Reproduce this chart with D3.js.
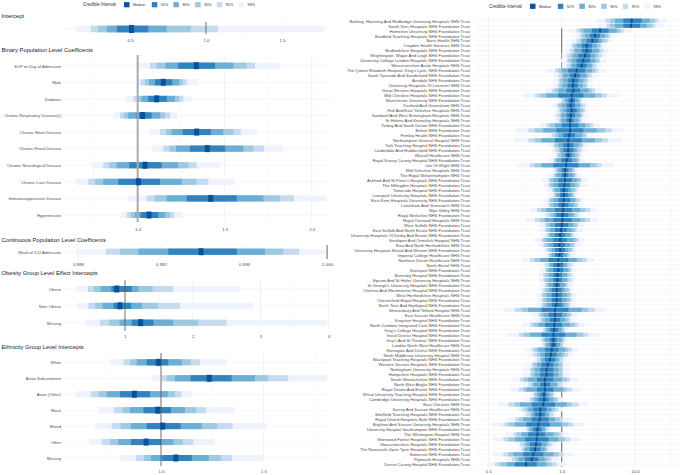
<!DOCTYPE html>
<html><head><meta charset="utf-8">
<script src="https://cdn.jsdelivr.net/npm/d3@7"></script>
<style>body{margin:0;background:#fff}svg{display:block}text{font-family:"Liberation Sans",Arial,sans-serif}</style>
</head><body><svg id="c" width="683" height="475"></svg>
<script>
// ---------- DATA ----------
const levels = ["50%","80%","90%","95%","99%"];
const legendLabels = ["Median","50%","80%","90%","95%","99%"];

// Intercept
const interceptLabels = [""];
const interceptMedian = [0.51];
const interceptLower = [[0.414,0.348,0.289,0.243,0.145]];
const interceptUpper = [[0.62,0.74,0.90,1.08,1.78]];
const interceptTicks = [0.5,1.0,1.5];
const interceptMinor = [0.25,0.75,1.25,1.75];

// Binary population level coefficients
const binaryLabels = ["SOP on Day of Admission","Male","Diabetes","Chronic Respiratory Disease(s)","Chronic Heart Disease","Chronic Renal Disease","Chronic Neurological Disease","Chronic Liver Disease","Immunosuppressive Disease","Hypertension"];
const binaryMedian = [1.337,1.147,1.109,1.029,1.339,1.40,1.042,1.004,1.42,1.065];
const binaryLower = [
 [1.233,1.161,1.109,1.071,0.994],[1.099,1.065,1.042,1.017,0.994],[1.061,1.023,0.998,0.975,0.933],
 [0.99,0.946,0.921,0.898,0.86],[1.259,1.195,1.163,1.128,1.071],[1.30,1.22,1.182,1.147,1.08],
 [0.952,0.879,0.837,0.802,0.736],[0.889,0.802,0.755,0.716,0.645],[1.282,1.167,1.099,1.052,0.946],
 [1.017,0.984,0.96,0.937,0.902]];
const binaryUpper = [
 [1.444,1.549,1.626,1.674,1.818],[1.199,1.239,1.259,1.282,1.348],[1.167,1.214,1.239,1.262,1.31],
 [1.08,1.128,1.157,1.186,1.233],[1.42,1.492,1.549,1.592,1.684],[1.502,1.607,1.664,1.726,1.837],
 [1.138,1.233,1.291,1.339,1.473],[1.128,1.253,1.339,1.406,1.559],[1.569,1.722,1.818,1.898,2.086],
 [1.118,1.157,1.186,1.209,1.259]];
const binaryTicks = [1.0,1.5,2.0];
const binaryMinor = [0.75,1.25,1.75];

// Continuous
const contLabels = ["Week of ICU Admission"];
const contMedian = [0.99393];
const contLower = [[0.99235,0.99091,0.99002,0.98935,0.98790]];
const contUpper = [[0.99565,0.99701,0.99789,0.99865,0.99990]];
const contTicks = [0.988,0.992,0.996,1.000];
const contMinor = [0.990,0.994,0.998];

// Obesity
const obesityLabels = ["Obese","Non\u2212Obese","Missing"];
const obesityMedian = [0.878,0.926,1.23];
const obesityLower = [[0.80,0.64,0.54,0.45,0.28],[0.83,0.67,0.56,0.46,0.29],[1.10,0.92,0.77,0.63,0.41]];
const obesityUpper = [[1.10,1.20,1.41,1.71,2.70],[1.09,1.25,1.49,1.81,2.89],[1.42,1.71,2.08,2.50,3.97]];
const obesityTicks = [1,2,3,4];
const obesityMinor = [0.5,1.5,2.5,3.5];

// Ethnicity
const ethLabels = ["White","Asian Subcontinent","Asian (Other)","Black","Mixed","Other","Missing"];
const ethMedian = [0.987,1.236,0.87,0.984,1.008,0.927,1.073];
const ethLower = [[0.930,0.881,0.849,0.816,0.751],[1.145,1.068,1.028,1.003,0.955],[0.80,0.735,0.694,0.657,0.585],
 [0.914,0.849,0.813,0.77,0.694],[0.93,0.853,0.803,0.759,0.678],[0.853,0.791,0.751,0.71,0.65],[1.006,0.951,0.917,0.878,0.803]];
const ethUpper = [[1.036,1.101,1.145,1.191,1.321],[1.345,1.459,1.524,1.622,1.81],[0.946,1.033,1.068,1.10,1.15],
 [1.049,1.117,1.171,1.22,1.362],[1.096,1.199,1.275,1.35,1.516],[1.0,1.06,1.106,1.158,1.264],[1.15,1.234,1.292,1.348,1.5]];
const ethTicks = [1.0,1.5];
const ethMinor = [0.75,1.25,1.75];

// Trusts (right panel)
const trustLabels = [
"Barking, Havering And Redbridge University Hospitals NHS Trust","South Tees Hospitals NHS Foundation Trust","Homerton University NHS Foundation Trust","Bradford Teaching Hospitals NHS Foundation Trust","Barts Health NHS Trust","Croydon Health Services NHS Trust","Bedfordshire Hospitals NHS Foundation Trust","Wrightington, Wigan And Leigh NHS Foundation Trust","University College London Hospitals NHS Foundation Trust","Worcestershire Acute Hospitals NHS Trust",
"The Queen Elizabeth Hospital, King's Lynn, NHS Foundation Trust","South Tyneside And Sunderland NHS Foundation Trust","Airedale NHS Foundation Trust","University Hospitals Of Leicester NHS Trust","Great Western Hospitals NHS Foundation Trust","Mid Cheshire Hospitals NHS Foundation Trust","Manchester University NHS Foundation Trust","Dartford And Gravesham NHS Trust","Hull And East Yorkshire Hospitals NHS Trust","Sandwell And West Birmingham Hospitals NHS Trust",
"St Helens And Knowsley Hospitals NHS Trust","Torbay And South Devon NHS Foundation Trust","Bolton NHS Foundation Trust","Frimley Health NHS Foundation Trust","Northampton General Hospital NHS Trust","York Teaching Hospital NHS Foundation Trust","Calderdale And Huddersfield NHS Foundation Trust","Walsall Healthcare NHS Trust","Royal Surrey County Hospital NHS Foundation Trust","Isle Of Wight NHS Trust",
"Mid Yorkshire Hospitals NHS Trust","The Royal Wolverhampton NHS Trust","Ashford And St Peter's Hospitals NHS Foundation Trust","The Hillingdon Hospitals NHS Foundation Trust","Tameside Hospital NHS Foundation Trust","Liverpool University Hospitals NHS Foundation Trust","East Kent Hospitals University NHS Foundation Trust","Lewisham And Greenwich NHS Trust","Wye Valley NHS Trust","Royal Berkshire NHS Foundation Trust",
"Royal Cornwall Hospitals NHS Trust","West Suffolk NHS Foundation Trust","East Suffolk And North Essex NHS Foundation Trust","University Hospitals Of Derby And Burton NHS Foundation Trust","Southport And Ormskirk Hospital NHS Trust","East And North Hertfordshire NHS Trust","University Hospitals Bristol And Weston NHS Foundation Trust","Imperial College Healthcare NHS Trust","Northern Devon Healthcare NHS Trust","North Bristol NHS Trust",
"Stockport NHS Foundation Trust","Barnsley Hospital NHS Foundation Trust","Epsom And St Helier University Hospitals NHS Trust","St George's University Hospitals NHS Foundation Trust","Chelsea And Westminster Hospital NHS Foundation Trust","West Hertfordshire Hospitals NHS Trust","Chesterfield Royal Hospital NHS Foundation Trust","North Tees And Hartlepool NHS Foundation Trust","Shrewsbury And Telford Hospital NHS Trust","East Sussex Healthcare NHS Trust",
"Kingston Hospital NHS Foundation Trust","North Cumbria Integrated Care NHS Foundation Trust","King's College Hospital NHS Foundation Trust","Yeovil District Hospital NHS Foundation Trust","Guy's And St Thomas' NHS Foundation Trust","London North West Healthcare NHS Trust","Harrogate And District NHS Foundation Trust","North Middlesex University Hospital NHS Trust","Blackpool Teaching Hospitals NHS Foundation Trust","Western Sussex Hospitals NHS Foundation Trust",
"Nottingham University Hospitals NHS Trust","Hampshire Hospitals NHS Foundation Trust","South Warwickshire NHS Foundation Trust","North West Anglia NHS Foundation Trust","Royal Devon And Exeter NHS Foundation Trust","Wirral University Teaching Hospital NHS Foundation Trust","Cambridge University Hospitals NHS Foundation Trust","East Cheshire NHS Trust","Surrey And Sussex Healthcare NHS Trust","Sheffield Teaching Hospitals NHS Foundation Trust",
"Royal United Hospitals Bath NHS Foundation Trust","Brighton And Sussex University Hospitals NHS Trust","University Hospital Southampton NHS Foundation Trust","The Whittington Hospital NHS Trust","Sherwood Forest Hospitals NHS Foundation Trust","Gloucestershire Hospitals NHS Foundation Trust","The Newcastle Upon Tyne Hospitals NHS Foundation Trust","Somerset NHS Foundation Trust","Plymouth Hospitals NHS Trust","Dorset County Hospital NHS Foundation Trust"];
const trustMedian = [9.0,8.8,3.33,2.85,2.62,2.19,2.19,2.08,1.97,1.87,
1.60,1.52,1.44,1.42,1.44,1.37,1.37,1.33,1.37,1.33,
1.30,1.30,1.30,1.27,1.23,1.23,1.23,1.23,1.17,1.15,
1.11,1.11,1.11,1.09,1.07,1.07,1.07,1.05,1.05,1.03,
1.03,1.00,0.98,0.95,0.95,0.93,0.95,0.93,0.90,0.90,
0.90,0.875,0.875,0.855,0.855,0.855,0.855,0.84,0.81,0.81,
0.81,0.79,0.79,0.77,0.77,0.77,0.73,0.715,0.69,0.645,
0.62,0.62,0.59,0.59,0.59,0.575,0.575,0.56,0.51,0.51,
0.50,0.48,0.466,0.466,0.456,0.446,0.433,0.41,0.39,0.326];
const trustLower = [
[6.93,5.34,4.56,3.90,3.00],[6.93,5.34,4.56,4.11,3.16],[2.57,1.98,1.78,1.60,1.23],[2.43,2.08,1.87,1.78,1.52],[2.19,1.87,1.78,1.60,1.37],
[1.87,1.60,1.44,1.37,1.17],[1.87,1.52,1.44,1.30,1.11],[1.69,1.44,1.30,1.17,1.00],[1.60,1.37,1.23,1.17,0.95],[1.60,1.37,1.30,1.17,1.00],
[1.23,1.00,0.90,0.81,0.62],[1.30,1.05,1.00,0.90,0.77],[1.23,1.05,0.95,0.90,0.77],[1.20,1.03,0.93,0.88,0.75],[1.17,0.90,0.81,0.73,0.59],
[0.90,0.62,0.51,0.43,0.30],[1.23,1.11,1.05,1.00,0.90],[1.17,1.00,0.90,0.85,0.73],[1.17,1.05,0.95,0.90,0.81],[1.17,1.00,0.95,0.85,0.77],
[1.17,1.00,0.95,0.90,0.77],[1.00,0.81,0.69,0.62,0.51],[0.85,0.56,0.43,0.35,0.24],[1.05,0.90,0.81,0.73,0.62],[0.81,0.53,0.43,0.35,0.23],
[1.05,0.90,0.81,0.77,0.66],[1.05,0.95,0.90,0.81,0.73],[1.11,1.00,0.90,0.85,0.77],[1.00,0.85,0.81,0.77,0.66],[0.77,0.53,0.43,0.37,0.26],
[1.00,0.90,0.85,0.81,0.73],[1.00,0.85,0.81,0.77,0.66],[0.90,0.77,0.69,0.66,0.53],[0.90,0.77,0.69,0.66,0.56],[0.95,0.81,0.77,0.73,0.62],
[0.95,0.85,0.81,0.77,0.66],[0.90,0.77,0.69,0.66,0.56],[0.90,0.77,0.69,0.66,0.56],[0.81,0.62,0.53,0.46,0.37],[0.85,0.77,0.69,0.62,0.56],
[0.77,0.59,0.51,0.43,0.33],[0.81,0.69,0.62,0.59,0.48],[0.81,0.69,0.62,0.59,0.51],[0.81,0.69,0.66,0.62,0.53],[0.77,0.62,0.56,0.53,0.43],
[0.77,0.66,0.59,0.56,0.48],[0.81,0.73,0.66,0.62,0.56],[0.81,0.73,0.69,0.66,0.59],[0.66,0.51,0.43,0.37,0.285],[0.77,0.69,0.66,0.59,0.53],
[0.77,0.66,0.62,0.59,0.51],[0.77,0.66,0.59,0.56,0.48],[0.77,0.66,0.59,0.56,0.48],[0.77,0.66,0.62,0.59,0.51],[0.73,0.66,0.59,0.56,0.51],
[0.73,0.62,0.56,0.53,0.46],[0.73,0.62,0.56,0.53,0.46],[0.73,0.62,0.56,0.53,0.46],[0.53,0.35,0.285,0.23,0.16],[0.66,0.56,0.51,0.48,0.39],
[0.69,0.59,0.53,0.51,0.43],[0.59,0.48,0.41,0.37,0.285],[0.69,0.62,0.59,0.56,0.51],[0.53,0.37,0.30,0.26,0.18],[0.69,0.59,0.56,0.53,0.48],
[0.69,0.62,0.59,0.56,0.51],[0.59,0.48,0.43,0.39,0.32],[0.59,0.51,0.46,0.41,0.35],[0.59,0.53,0.51,0.46,0.41],[0.53,0.46,0.41,0.39,0.33],
[0.51,0.43,0.39,0.37,0.30],[0.51,0.43,0.39,0.37,0.30],[0.46,0.35,0.30,0.27,0.21],[0.51,0.41,0.39,0.35,0.30],[0.46,0.33,0.30,0.26,0.20],
[0.51,0.46,0.43,0.41,0.37],[0.48,0.43,0.39,0.37,0.32],[0.39,0.27,0.23,0.187,0.137],[0.41,0.35,0.32,0.285,0.243],[0.43,0.39,0.37,0.33,0.30],
[0.39,0.30,0.26,0.23,0.178],[0.33,0.23,0.187,0.16,0.111],[0.41,0.37,0.35,0.33,0.30],[0.35,0.285,0.243,0.219,0.169],[0.316,0.231,0.187,0.16,0.117],
[0.37,0.33,0.30,0.27,0.243],[0.37,0.316,0.30,0.285,0.243],[0.30,0.219,0.187,0.16,0.117],[0.316,0.2565,0.231,0.208,0.169],[0.231,0.178,0.144,0.123,0.095]];
const trustUpper = [
[12.3,16.0,18.7,20.8,27.0],[11.7,14.4,16.9,18.7,24.3],[4.33,5.62,6.24,6.93,9.01],[3.33,3.90,4.33,4.56,5.34],[3.16,3.51,3.90,4.33,4.81],
[2.57,3.00,3.33,3.51,4.11],[2.57,3.16,3.33,3.70,4.33],[2.43,2.85,3.16,3.51,4.11],[2.43,2.85,3.16,3.33,4.11],[2.19,2.57,2.70,3.00,3.51],
[2.08,2.57,2.85,3.16,4.11],[1.78,2.19,2.31,2.57,3.00],[1.69,1.97,2.19,2.31,2.70],[1.65,1.93,2.14,2.26,2.64],[1.78,2.31,2.57,2.85,3.51],
[1.97,2.85,3.51,4.11,5.93],[1.52,1.69,1.78,1.87,2.08],[1.52,1.78,1.87,2.08,2.31],[1.60,1.78,1.97,2.08,2.31],[1.52,1.78,1.87,1.97,2.31],
[1.44,1.69,1.78,1.87,2.19],[1.69,2.08,2.43,2.70,3.33],[1.97,3.00,3.90,4.81,6.93],[1.52,1.87,2.08,2.19,2.70],[1.87,2.85,3.51,4.33,6.58],
[1.44,1.69,1.87,1.97,2.31],[1.44,1.60,1.69,1.87,2.08],[1.37,1.52,1.69,1.78,1.97],[1.37,1.60,1.69,1.78,2.08],[1.69,2.43,3.00,3.51,5.06],
[1.23,1.37,1.44,1.52,1.69],[1.23,1.44,1.52,1.60,1.87],[1.37,1.60,1.78,1.87,2.31],[1.30,1.52,1.69,1.78,2.19],[1.23,1.37,1.52,1.60,1.78],
[1.23,1.37,1.44,1.52,1.69],[1.30,1.52,1.60,1.78,2.08],[1.23,1.44,1.60,1.69,1.97],[1.37,1.78,2.08,2.43,3.00],[1.23,1.44,1.52,1.69,1.97],
[1.37,1.78,2.08,2.43,3.16],[1.23,1.44,1.60,1.69,2.08],[1.17,1.37,1.52,1.60,1.97],[1.11,1.30,1.37,1.44,1.69],[1.17,1.44,1.60,1.69,2.08],
[1.11,1.30,1.44,1.52,1.87],[1.11,1.23,1.37,1.44,1.60],[1.05,1.17,1.23,1.30,1.52],[1.23,1.60,1.87,2.19,2.85],[1.05,1.17,1.23,1.37,1.52],
[1.05,1.23,1.30,1.37,1.60],[1.00,1.17,1.23,1.37,1.52],[1.00,1.17,1.23,1.37,1.52],[0.95,1.11,1.17,1.23,1.44],[1.00,1.11,1.23,1.30,1.44],
[1.00,1.17,1.30,1.37,1.60],[1.00,1.17,1.30,1.37,1.60],[1.00,1.11,1.23,1.30,1.52],[1.23,1.87,2.31,2.85,4.11],[1.00,1.17,1.30,1.37,1.69],
[0.95,1.11,1.23,1.30,1.52],[1.00,1.30,1.52,1.69,2.08],[0.90,1.00,1.05,1.11,1.23],[1.11,1.60,1.97,2.31,3.33],[0.855,1.00,1.05,1.11,1.23],
[0.855,0.95,1.00,1.05,1.17],[0.90,1.11,1.23,1.37,1.69],[0.855,1.00,1.11,1.23,1.44],[0.81,0.90,0.95,1.05,1.17],[0.77,0.90,1.00,1.05,1.30],
[0.77,0.90,1.00,1.05,1.30],[0.77,0.90,1.00,1.05,1.30],[0.77,1.00,1.17,1.30,1.69],[0.69,0.855,0.90,1.00,1.17],[0.77,1.05,1.17,1.37,1.78],
[0.62,0.69,0.754,0.786,0.855],[0.66,0.77,0.855,0.90,1.05],[0.81,1.17,1.37,1.69,2.31],[0.62,0.73,0.81,0.90,1.05],[0.59,0.66,0.69,0.77,0.855],
[0.66,0.81,0.95,1.05,1.37],[0.69,1.00,1.23,1.44,2.08],[0.53,0.59,0.62,0.66,0.73],[0.59,0.77,0.90,1.00,1.23],[0.66,0.90,1.11,1.30,1.78],
[0.53,0.62,0.66,0.73,0.855],[0.51,0.59,0.62,0.66,0.77],[0.56,0.77,0.90,1.05,1.44],[0.48,0.59,0.66,0.73,0.90],[0.456,0.624,0.73,0.855,1.17]];
const trustTicks = [0.1,1,10];
const trustMinor = [0.3162,3.162,31.62];

// ---------- STYLE ----------
const colors = {"Median":"#08519c","50%":"#3182bd","80%":"#6baed6","90%":"#9ecae1","95%":"#c6dbef","99%":"#eff3ff"};
const svg = d3.select("#c");
svg.append("rect").attr("width",683).attr("height",475).attr("fill","#fff");

function drawPanel(p){
  const g = svg.append("g");
  const x = (p.log ? d3.scaleLog() : d3.scaleLinear()).domain(p.domain).range(p.range);
  const y = d3.scalePoint().domain(p.labels).range(p.rows);
  g.selectAll(null).data(p.minor).join("line")
    .attr("x1",d=>x(d)).attr("x2",d=>x(d)).attr("y1",p.top).attr("y2",p.bottom)
    .attr("stroke","#f3f3f3").attr("stroke-width",0.5);
  g.selectAll(null).data(p.ticks).join("line")
    .attr("x1",d=>x(d)).attr("x2",d=>x(d)).attr("y1",p.top).attr("y2",p.bottom)
    .attr("stroke","#e8e8e8").attr("stroke-width",0.6);
  g.selectAll(null).data(p.labels).join("line")
    .attr("x1",p.range[0]).attr("x2",p.range[1]).attr("y1",d=>y(d)).attr("y2",d=>y(d))
    .attr("stroke","#eeeeee").attr("stroke-width",p.rowLineW||0.6);
  const drawRef = () => g.append("line").attr("x1",x(1)).attr("x2",x(1))
    .attr("y1",p.refTop!=null?p.refTop:p.top).attr("y2",p.refBottom!=null?p.refBottom:p.bottom)
    .attr("stroke",p.refColor).attr("stroke-width",p.refW);
  if(!p.refOnTop) drawRef();
  p.labels.forEach((lab,i)=>{
    for(let k=4;k>=0;k--){
      const lo=p.lower[i][k], hi=p.upper[i][k];
      g.append("rect").attr("x",x(lo)).attr("width",Math.max(0,x(hi)-x(lo)))
        .attr("y",y(lab)-p.barH/2).attr("height",p.barH).attr("fill",colors[levels[k]]);
    }
  });
  if(p.refOnTop) drawRef();
  p.labels.forEach((lab,i)=>{
    g.append("rect").attr("x",x(p.median[i])-p.medW/2).attr("width",p.medW)
      .attr("y",y(lab)-p.medH/2).attr("height",p.medH).attr("fill",colors["Median"]);
  });
  const ax = g.append("g").attr("transform",`translate(0,${p.axisY - 0.35*p.tickSize})`)
    .call(d3.axisBottom(x).tickValues(p.ticks).tickFormat(d3.format(p.fmt)).tickSize(0).tickPadding(0));
  ax.select(".domain").remove();
  ax.selectAll("text").attr("font-size",p.tickSize).attr("fill","#4d4d4d").attr("font-family","Liberation Sans, Arial, sans-serif");
  const ay = g.append("g").attr("transform",`translate(${p.labelX},0)`)
    .call(d3.axisLeft(y).tickSize(0).tickPadding(0));
  ay.select(".domain").remove();
  ay.selectAll("text").attr("font-size",p.labelSize).attr("fill","#4d4d4d").attr("font-family","Liberation Sans, Arial, sans-serif");
  if(p.title){
    g.append("text").attr("x",1.5).attr("y",p.titleY).attr("dy","0.35em")
      .attr("font-size",5.8).attr("fill","#1a1a1a").text(p.title);
  }
}

function drawLegend(x0,y0){
  const g = svg.append("g");
  g.append("text").attr("x",x0).attr("y",y0).attr("dy","0.35em").attr("font-size",4.5).attr("fill","#333").text("Credible Interval");
  const offs=[0,27.8,49.4,71.2,92.8,114.6];
  legendLabels.forEach((l,i)=>{
    const sx=x0+41+offs[i];
    g.append("rect").attr("x",sx).attr("y",y0-2.6).attr("width",5.5).attr("height",5.2).attr("fill",colors[l]);
    g.append("text").attr("x",sx+9).attr("y",y0).attr("dy","0.35em").attr("font-size",3.7).attr("fill","#333").text(l);
  });
}

const L = [63,330];
drawLegend(83,4.7);
drawLegend(489,6.3);

drawPanel({title:"Intercept",titleY:16,labels:interceptLabels,median:interceptMedian,lower:interceptLower,upper:interceptUpper,
  ticks:interceptTicks,minor:interceptMinor,fmt:".1f",domain:[0.059,1.816],range:L,rows:[29,29],top:21,bottom:36,refTop:22,refBottom:34,refOnTop:true,
  axisY:40,refColor:"#555",refW:0.8,barH:6.5,medW:5,medH:8,tickSize:4.4,labelSize:4.1,labelX:61});
drawPanel({title:"Binary Population Level Coefficents",titleY:50,labels:binaryLabels,median:binaryMedian,lower:binaryLower,upper:binaryUpper,
  ticks:binaryTicks,minor:binaryMinor,fmt:".1f",domain:[0.571,2.105],range:L,rows:[65.7,215],top:55,bottom:222,refOnTop:true,
  axisY:229,refColor:"#aaaaaa",refW:2,barH:6,medW:5,medH:7,tickSize:4.4,labelSize:4.1,labelX:61});
drawPanel({title:"Continuous Population Level Coefficents",titleY:240,labels:contLabels,median:contMedian,lower:contLower,upper:contUpper,
  ticks:contTicks,minor:contMinor,fmt:".3f",domain:[0.98728,1.00014],range:L,rows:[251.7,251.7],top:245,bottom:259,refOnTop:true,
  axisY:264,refColor:"#444",refW:0.8,barH:6,medW:5,medH:7,tickSize:4.4,labelSize:4.1,labelX:61});
drawPanel({title:"Obesity Group Level Effect Intercepts",titleY:273,labels:obesityLabels,median:obesityMedian,lower:obesityLower,upper:obesityUpper,
  ticks:obesityTicks,minor:obesityMinor,fmt:"d",domain:[0.0855,4.024],range:L,rows:[289,322.7],top:280,bottom:331,refOnTop:true,
  axisY:336.7,refColor:"#555",refW:0.8,barH:6,medW:5,medH:7,tickSize:4.4,labelSize:4.1,labelX:61});
drawPanel({title:"Ethnicity Group Level Intercepts",titleY:346.7,labels:ethLabels,median:ethMedian,lower:ethLower,upper:ethUpper,
  ticks:ethTicks,minor:ethMinor,fmt:".1f",domain:[0.521,1.826],range:L,rows:[362.3,458],top:353,bottom:466,refOnTop:true,
  axisY:471.7,refColor:"#555",refW:0.8,barH:6,medW:5,medH:7,tickSize:4.4,labelSize:4.1,labelX:61});
drawPanel({title:null,labels:trustLabels,median:trustMedian,lower:trustLower,upper:trustUpper,log:true,
  ticks:trustTicks,minor:trustMinor,fmt:".1f",domain:[0.0677,41.1],range:[476,680],rows:[20.7,464.3],top:15,bottom:467,refTop:28,
  axisY:471.7,refColor:"#444",refW:0.8,barH:4,medW:2,medH:4,tickSize:4.4,labelSize:4.2,labelX:470,rowLineW:0.5});
</script></body></html>
